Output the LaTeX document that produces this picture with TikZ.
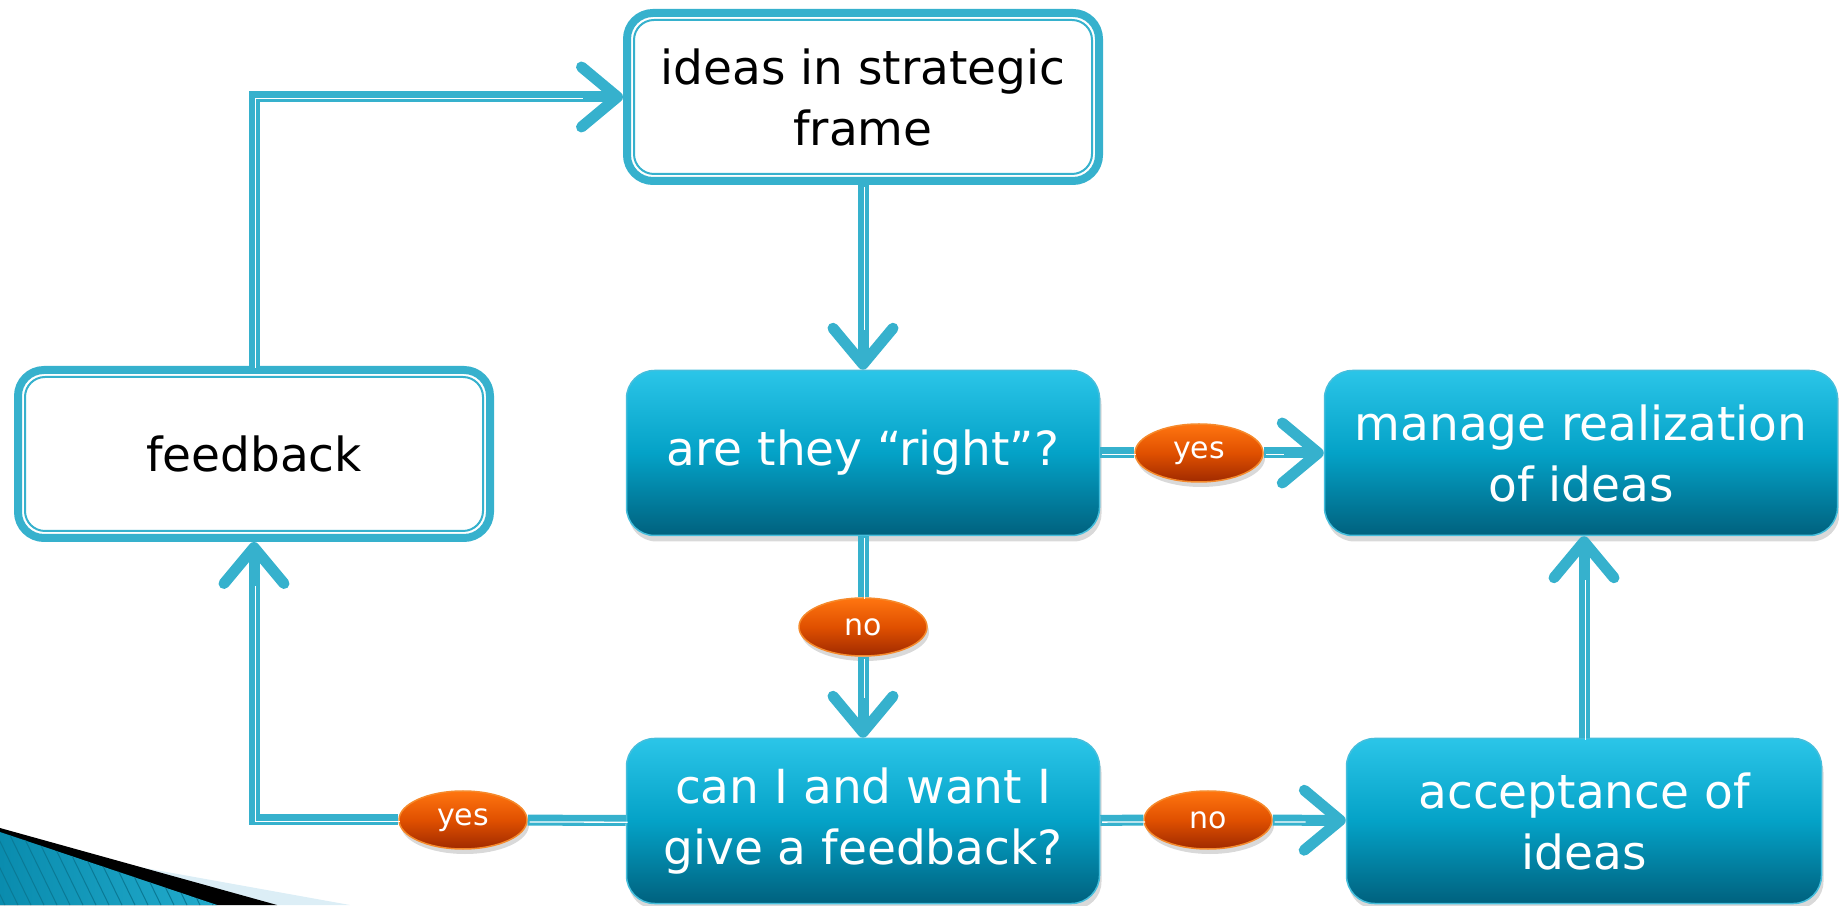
\documentclass[tikz,border=0pt]{standalone}
\usepackage{fontspec}
\setmainfont{DejaVu Sans}
\usetikzlibrary{arrows.meta,shadows,shapes.geometric}

\definecolor{linecol}{HTML}{36B1CD}
\definecolor{boxtop}{HTML}{2BC5E8}
\definecolor{boxmid}{HTML}{04A2C7}
\definecolor{boxbot}{HTML}{00617E}
\definecolor{boxrim}{HTML}{45BEDC}
\definecolor{ovaltop}{HTML}{FF7510}
\definecolor{ovalmid}{HTML}{E05000}
\definecolor{ovalbot}{HTML}{A02A00}
\definecolor{ovalrim}{HTML}{F58A2C}
\definecolor{wash}{HTML}{DCEEF6}
\definecolor{hatchl}{HTML}{0A8CAE}
\definecolor{hatchr}{HTML}{22ABCC}
\definecolor{hatchline}{HTML}{0A7A96}

\tikzset{
  boxfont/.style={font=\fontsize{47}{61}\selectfont},
  framebox/.style={boxfont, draw=linecol, line width=8pt, fill=white,
    rounded corners=26pt, minimum width=472pt, minimum height=168pt, align=center,
    path picture={\draw[linecol, line width=2pt, rounded corners=20pt]
      ([shift={(7pt,7pt)}]path picture bounding box.south west) rectangle
      ([shift={(-7pt,-7pt)}]path picture bounding box.north east);}},
  stepbox/.style={boxfont, draw=boxrim, line width=1.5pt, rounded corners=28pt,
    top color=boxtop, bottom color=boxbot, middle color=boxmid, text=white,
    minimum width=473pt, minimum height=165pt, align=center,
    drop shadow={shadow xshift=2pt, shadow yshift=-6pt, opacity=.3}},
  oval/.style={ellipse, draw=ovalrim, line width=1.5pt, inner sep=0pt,
    minimum width=128pt, minimum height=58pt,
    top color=ovaltop, bottom color=ovalbot, middle color=ovalmid,
    text=white, font=\fontsize{30}{36}\selectfont,
    drop shadow={shadow xshift=2pt, shadow yshift=-5pt, opacity=.3}},
  link/.style={draw=linecol, line width=11pt,
    postaction={draw=white, line width=1.3pt, -, shorten >=#1,
      transform canvas={shift={(1.8pt,-1.8pt)}}}},
  link/.default=0pt,
  arrowed/.style={-{Straight Barb[length=36pt, width=60pt, line width=11pt, round]}}
}

\begin{document}
\begin{tikzpicture}[x=1pt,y=1pt]
  \useasboundingbox (0,0) rectangle (1839,905);

  % corner swoosh
  \fill[wash] (0,63) -- (350,0) -- (0,0) -- cycle;
  \fill[black] (0,77) -- (277,0) -- (0,0) -- cycle;
  \begin{scope}
    \clip (0,73) -- (217,0) -- (0,0) -- cycle;
    \fill[left color=hatchl, right color=hatchr] (0,0) rectangle (217,73);
    \foreach \s in {-60,-47,...,220}
      \draw[hatchline, line width=1pt] (\s,80) -- ++(39,-80);
  \end{scope}

  \node[framebox] (ideas) at (863,808) {ideas in strategic\\frame};
  \node[framebox] (feedback) at (254,451) {feedback};
  \node[stepbox] (right) at (863,452) {are they “right”?};
  \node[stepbox, minimum width=513pt] (manage) at (1581,452) {manage realization\\of ideas};
  \node[stepbox] (give) at (863,84) {can I and want I\\give a feedback?};
  \node[stepbox, minimum width=475pt] (accept) at (1584,84) {acceptance of\\ideas};

  \node[oval] (yesright) at (1199,452) {yes};
  \node[oval] (nodown) at (863,278) {no};
  \node[oval] (yesback) at (463,85) {yes};
  \node[oval] (noright) at (1208,85) {no};

  \draw[link=42pt, arrowed] (ideas) -- (right);
  \draw[link] (right) -- (yesright);
  \draw[link=42pt, arrowed] (yesright) -- (manage);
  \draw[link] (right) -- (nodown);
  \draw[link=42pt, arrowed] (nodown) -- (give);
  \draw[link] (give) -- (noright);
  \draw[link=42pt, arrowed] (noright) -- (accept);
  \draw[link=42pt, arrowed] (accept) -- (accept |- manage.south);
  \draw[link] (give) -- (yesback);
  \draw[link=42pt, arrowed] (yesback) -| (feedback);
  \draw[link=42pt, arrowed] (feedback) |- (ideas);
\end{tikzpicture}
\end{document}
